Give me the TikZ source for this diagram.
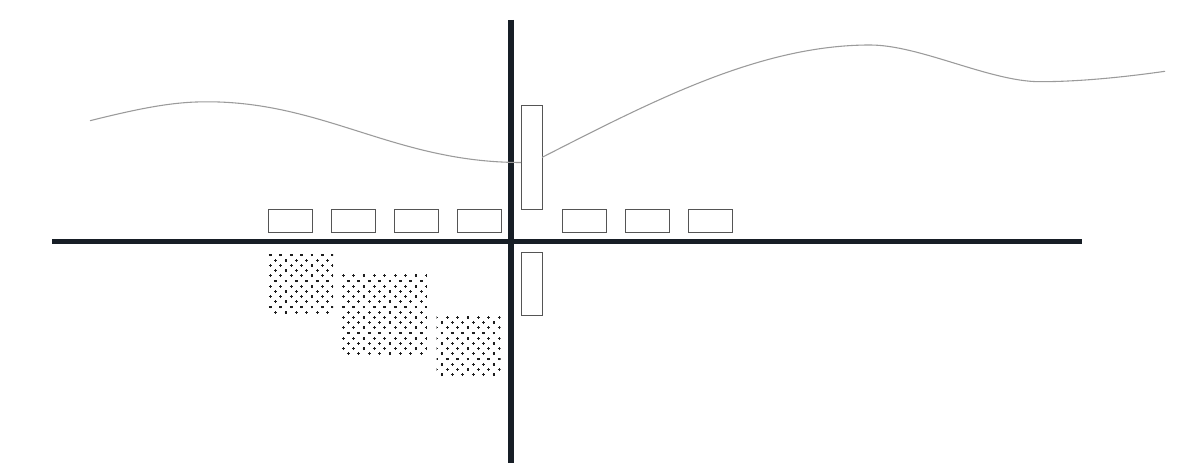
\documentclass[tikz,border=0pt]{standalone}
\usetikzlibrary{patterns}
\pgfdeclarepatternformonly{plusdots}{\pgfqpoint{-1pt}{-1pt}}{\pgfqpoint{5.24pt}{5.24pt}}{\pgfqpoint{6.24pt}{6.24pt}}{%
  \pgfsetlinewidth{0.7pt}%
  \pgfpathmoveto{\pgfqpoint{-0.85pt}{0pt}}\pgfpathlineto{\pgfqpoint{0.85pt}{0pt}}%
  \pgfpathmoveto{\pgfqpoint{0pt}{-0.85pt}}\pgfpathlineto{\pgfqpoint{0pt}{0.85pt}}%
  \pgfpathmoveto{\pgfqpoint{2.27pt}{3.12pt}}\pgfpathlineto{\pgfqpoint{3.97pt}{3.12pt}}%
  \pgfpathmoveto{\pgfqpoint{3.12pt}{2.27pt}}\pgfpathlineto{\pgfqpoint{3.12pt}{3.97pt}}%
  \pgfusepath{stroke}%
}
\definecolor{axiscol}{RGB}{23,30,38}
\definecolor{boxcol}{RGB}{85,85,85}
\definecolor{curvecol}{RGB}{155,155,155}
\definecolor{dotcol}{RGB}{30,30,30}
\tikzset{
  axisline/.style={draw=axiscol, line width=3.1pt},
  smallbox/.style={draw=boxcol, fill=white, line width=0.6pt, inner sep=0pt, outer sep=0pt, minimum width=26.4pt, minimum height=13.8pt},
  tallbox/.style={draw=boxcol, fill=white, line width=0.6pt, inner sep=0pt, outer sep=0pt, minimum width=12.6pt},
  dotsquare/.style={draw=none, inner sep=0pt, outer sep=0pt, pattern=plusdots, pattern color=dotcol},
  wave/.style={draw=curvecol, line width=0.65pt}
}
\begin{document}
\begin{tikzpicture}[x=0.6pt, y=-0.6pt]
\useasboundingbox (0,0) rectangle (1184,463);
% axes
\coordinate (hl) at (52,241.5);
\coordinate (hr) at (1082,241.5);
\coordinate (vt) at (511,20);
\coordinate (vb) at (511,463);
\draw[axisline] (hl) -- (hr);
\draw[axisline] (vt) -- (vb);
% small boxes
\node[smallbox] (b1) at (290,220.8) {};
\node[smallbox] (b2) at (353,220.8) {};
\node[smallbox] (b3) at (416,220.8) {};
\node[smallbox] (b4) at (479,220.8) {};
\node[smallbox] (b5) at (584,220.8) {};
\node[smallbox] (b6) at (647,220.8) {};
\node[smallbox] (b7) at (710,220.8) {};
% tall boxes
\node[tallbox, minimum height=62.4pt] (tall) at (531.5,157.4) {};
\node[tallbox, minimum height=38.1pt] (low) at (531.5,284) {};
% dotted squares
\node[dotsquare, minimum width=39pt, minimum height=38pt] (d1) at (300.5,283.4) {};
\node[dotsquare, minimum width=51.2pt, minimum height=50.4pt] (d2) at (384.3,315) {};
\node[dotsquare, minimum width=38.4pt, minimum height=37.8pt] (d3) at (468.7,346.5) {};
% wave
\coordinate (w0) at (90,120.7);
\coordinate (w1) at (207,101.8);
\coordinate (wl) at (521,162.5);
\draw[wave] (w0) .. controls (145,107) and (175,101.8) .. (w1)
  .. controls (325,101.8) and (395,162.5) .. (wl);
\coordinate (p1) at (870,45);
\coordinate (p2) at (1040,81.7);
\coordinate (p3) at (1165,71.3);
\draw[wave] (tall.east) .. controls (652.7,101) and (760,45) .. (p1)
  .. controls (920,45) and (990,81.7) .. (p2)
  .. controls (1080,81.7) and (1125,77) .. (p3);
\end{tikzpicture}
\end{document}
